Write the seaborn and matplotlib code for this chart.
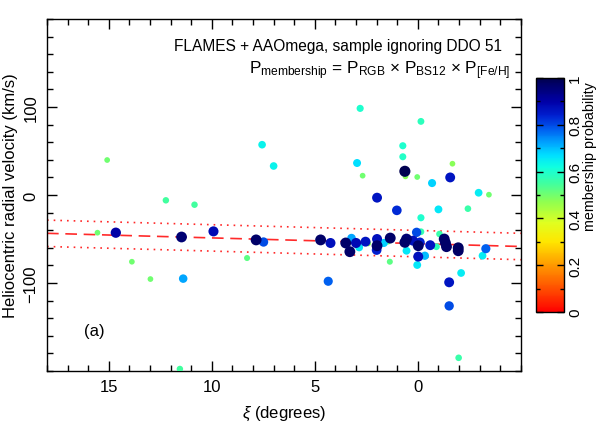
import numpy as np
import pandas as pd
import matplotlib
matplotlib.use('Agg')
import matplotlib.pyplot as plt
import seaborn as sns
from matplotlib.colors import LinearSegmentedColormap, Normalize
from matplotlib.ticker import MultipleLocator

# data
xi = [15.08, 15.55, 14.66, 12.23, 10.84, 13.88, 12.98, 11.47, 11.39, 11.55,
      9.92, 7.56, 7.0, 8.29, 7.85, 7.49,
      2.8, -0.15, 0.73, 0.73, 2.95, 2.68, 0.63, 0.6, 0.03, -1.68,
      -1.57, -0.69, 1.98, 1.02, -0.15, -1.0, -2.43, -2.95, -3.45,
      4.72, 4.24, 3.22, 3.5, 3.3, 3.0, 2.85, 2.54, 2.41, 1.98,
      1.98, 2.0, 1.65, 1.44, 1.34, 1.36, 4.35, 0.63, 0.55, 0.55,
      0.23, 0.06, -0.15, -0.1, -0.02, -0.02, 0.03, -0.34, -0.6, -0.9,
      -1.05, -1.34, -1.28, -1.39, -1.96, -1.96, -1.52, -1.52, -2.1, -1.98,
      -3.3, -3.14]
vel = [39.8, -42.8, -42.8, -6, -11, -75.8, -95.5, -47.7, -95, -197.7,
       -41.3, 57.2, 33, -71.6, -51, -53.4,
       98.5, 83.7, 56, 43.5, 36.4, 22, 27, 21.2, 20.5, 35.6,
       20, 13.6, -3, -17.4, -25.8, -16.3, -15.5, 2.6, 0.4,
       -51, -54.5, -48.9, -54.5, -64.4, -54.5, -59.5, -53, -55, -50,
       -57.6, -62.5, -54.5, -53, -48.9, -75.8, -98, -53.8, -63.3, -50,
       -51.9, -42.4, -41.7, -53.8, -57.6, -70, -79.5, -69, -57, -58.7,
       -44.3, -54.5, -50, -58.7, -60, -63.3, -99.2, -126, -88.6, -185,
       -61, -69]
prob = [0.50, 0.50, 0.90, 0.55, 0.55, 0.50, 0.50, 0.96, 0.72, 0.55,
        0.88, 0.64, 0.64, 0.52, 0.97, 0.80,
        0.60, 0.58, 0.60, 0.59, 0.67, 0.50, 1.00, 0.48, 0.50, 0.48,
        0.86, 0.68, 0.86, 0.83, 0.60, 0.66, 0.56, 0.65, 0.50,
        0.97, 0.87, 0.72, 0.97, 0.97, 0.88, 0.66, 0.86, 0.48, 0.87,
        0.97, 0.84, 0.68, 0.50, 0.97, 0.52, 0.78, 0.97, 0.66, 0.96,
        0.87, 0.80, 0.57, 0.84, 0.97, 0.87, 0.66, 0.70, 0.86, 0.58,
        0.56, 0.97, 0.97, 0.97, 0.98, 0.97, 0.86, 0.80, 0.65, 0.56,
        0.78, 0.65]

# mean velocity trend and +/- dispersion
line_xi = [18, -5]
line_v = [-43.5, -58.5]
disp = 15

plt.rcParams['font.family'] = ['Liberation Sans', 'DejaVu Sans']
plt.rcParams['mathtext.fontset'] = 'custom'
plt.rcParams['mathtext.rm'] = 'Liberation Sans'
plt.rcParams['mathtext.it'] = 'Liberation Sans:italic'

cmap = LinearSegmentedColormap.from_list('memb', [
    (0.0, '#ff0000'), (0.1, '#ff5000'), (0.2, '#ff9a00'), (0.3, '#ffe600'),
    (0.38, '#e0ff20'), (0.47, '#90ff50'), (0.55, '#40ffa0'), (0.62, '#10ffe0'),
    (0.67, '#00e0ff'), (0.72, '#00a8ff'), (0.78, '#0060f0'), (0.84, '#0020d0'),
    (0.9, '#0000a8'), (1.0, '#000050')])

df = pd.DataFrame({'xi': xi, 'vel': vel, 'prob': prob}).sort_values('prob')

fig = plt.figure(figsize=(5.98, 4.27), dpi=100)
ax = fig.add_axes([0.0786, 0.1288, 0.7924, 0.8242])

lx = np.array(line_xi, dtype=float)
lv = np.array(line_v, dtype=float)
ax.plot(lx, lv, color='#ff2a2a', lw=1.2, ls=(0, (7, 4)))
ax.plot(lx, lv + disp, color='#ff2a2a', lw=1.2, ls=(0, (1, 3)))
ax.plot(lx, lv - disp, color='#ff2a2a', lw=1.2, ls=(0, (1, 3)))

sns.scatterplot(data=df, x='xi', y='vel', hue='prob', size='prob',
                palette=cmap, hue_norm=(0, 1), sizes=(17, 64),
                size_norm=(0.5, 1), linewidth=0, legend=False, ax=ax, zorder=3)

ax.set_xlim(18, -5)
ax.set_ylim(-200, 200)
ax.xaxis.set_major_locator(MultipleLocator(5))
ax.xaxis.set_minor_locator(MultipleLocator(1))
ax.yaxis.set_major_locator(MultipleLocator(100))
ax.yaxis.set_minor_locator(MultipleLocator(20))
ax.tick_params(which='both', direction='in', top=True, right=True,
               labelsize=12, width=1, pad=6)
ax.tick_params(which='major', length=7)
ax.tick_params(which='minor', length=4)
ax.set_xticks([15, 10, 5, 0])
ax.set_xticklabels(['15', '10', '5', '0'])
ax.set_yticks([-100, 0, 100])
ax.set_yticklabels(['\u2212100', '0', '100'], rotation=90, va='center')
for s in ax.spines.values():
    s.set_linewidth(1)

ax.set_xlabel(r'$\xi$ (degrees)', fontsize=12, labelpad=7)
ax.set_ylabel('Heliocentric radial velocity (km/s)', fontsize=12, labelpad=4)

ax.text(0.96, 0.925, 'FLAMES + AAOmega, sample ignoring DDO 51',
        transform=ax.transAxes, ha='right', va='center', fontsize=11.2)
ax.text(0.978, 0.857,
        r'P$_{\mathrm{membership}}$ = P$_{\mathrm{RGB}}$ $\times$ P$_{\mathrm{BS12}}$ $\times$ P$_{\mathrm{[Fe/H]}}$',
        transform=ax.transAxes, ha='right', va='center', fontsize=12.3)
ax.text(0.1, 0.114, '(a)', transform=ax.transAxes, ha='center', va='center',
        fontsize=12)

cax = fig.add_axes([0.896, 0.267, 0.047, 0.548])
sm = plt.cm.ScalarMappable(cmap=cmap, norm=Normalize(0, 1))
cb = fig.colorbar(sm, cax=cax)
cb.set_ticks([0, 0.2, 0.4, 0.6, 0.8, 1])
cb.set_ticklabels(['0', '0.2', '0.4', '0.6', '0.8', '1'])
cax.yaxis.set_minor_locator(MultipleLocator(0.1))
cax.tick_params(which='both', direction='in', left=True, right=True,
                labelsize=11, width=1, pad=3)
cax.tick_params(which='major', length=5)
cax.tick_params(which='minor', length=3)
for t in cax.get_yticklabels():
    t.set_rotation(90)
    t.set_va('center')
cb.outline.set_linewidth(1)
fig.text(0.986, 1 - 157 / 427, 'membership probability', rotation=90,
         ha='center', va='center', fontsize=10.3)

fig.savefig('out.png', dpi=100)
